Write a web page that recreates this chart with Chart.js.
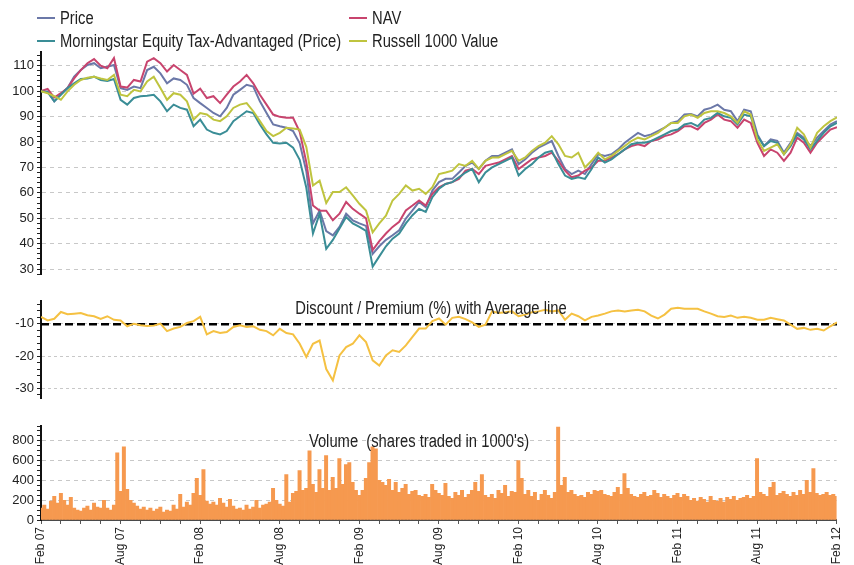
<!DOCTYPE html>
<html>
<head>
<meta charset="utf-8">
<title>Fund performance</title>
<script src="https://cdn.jsdelivr.net/npm/chart.js@4.4.1/dist/chart.umd.min.js"></script>
<style>
  body { margin: 0; background: #fff; width: 854px; height: 565px; overflow: hidden; position: relative;
         font-family: "Liberation Sans", Arial, sans-serif; color: #222; }
  canvas { position: absolute; left: 0; }
  .legend { position: absolute; font-size: 18px; line-height: 18px; white-space: nowrap; }
  .legend i { display: inline-block; width: 18px; height: 2px; vertical-align: middle; margin-right: 5px; position: relative; top: -1px; }
  .legend span { display: inline-block; transform: scaleX(0.82); transform-origin: left center; }
  .title { position: absolute; font-size: 18px; line-height: 18px; white-space: pre; transform: translateX(-50%) scaleX(0.82); }
</style>
</head>
<body>
<canvas id="top" width="854" height="285" style="top:0"></canvas>
<canvas id="mid" width="854" height="119" style="top:290px"></canvas>
<canvas id="vol" width="854" height="150" style="top:415px"></canvas>

<div class="legend" style="left:37px;top:9px"><i style="background:#6b78a8"></i><span>Price</span></div>
<div class="legend" style="left:349px;top:9px"><i style="background:#c8446e"></i><span>NAV</span></div>
<div class="legend" style="left:37px;top:32px"><i style="background:#3a8d96"></i><span>Morningstar Equity Tax-Advantaged (Price)</span></div>
<div class="legend" style="left:349px;top:32px"><i style="background:#bfc43f"></i><span>Russell 1000 Value</span></div>

<div class="title" style="left:431px;top:299px">Discount / Premium (%) with Average line</div>
<div class="title" style="left:419px;top:432px">Volume  (shares traded in 1000's)</div>

<script>
// half-monthly points, Feb 07 .. Feb 12
const price = [
  100, 99.9, 96, 98.8, 101.2, 105.7, 108.3, 110.3, 111, 109, 109.6, 110.3, 101.2, 100.5, 101.8, 101.2,
  108.3, 109.6, 107, 103.1, 105, 104.4, 102.5, 97.3, 95.3, 93.4, 91.4, 90.1, 93.4, 98.6, 100.5, 102.5,
  101.8, 96, 91.4, 86.9, 86.2, 85.6, 84.3, 79.5, 68.5,
  48, 53, 45, 43.3, 46.6, 51.8, 49.2, 48, 47, 36, 39, 41.5, 43.3, 45.3, 49.9, 53.1, 56.4, 54.4, 60.9,
  64.2, 65.5, 65.5, 68, 70.6, 71.9, 69.4, 72.6, 74.5, 74.5, 75.8, 77.1, 71.3, 73.2, 75.8, 77.8, 79.1,
  80.4, 74.5, 69.4,
  67.4, 68.7, 67.4, 71.3, 75.2, 74.5, 75.2, 77.1, 79.7, 81.7, 83.6, 82.3, 83, 84.3, 85.6, 87.5, 88.2,
  90.8, 91, 90.1, 92.7, 93.4, 94.7, 92.7, 92.1, 88.2, 92.7, 92.1, 83, 78.4, 81, 80.4, 75.8, 79.7, 83.6,
  81.7, 78.4, 81.7, 84.3, 86.9, 88.2
];
const nav = [
  100, 100.9, 97.5, 99.2, 101.2, 105, 108.3, 111, 112.6, 110, 109, 113, 101.8, 101.4, 104.4, 103.8,
  111.6, 113, 111, 107.7, 110.3, 108.3, 106.4, 99, 101, 97.3, 98, 95.3, 98.6, 101.8, 103.8, 106.4,
  103.1, 98.6, 94.7, 90.8, 89.9, 89.5, 89.5, 84, 72,
  55, 53, 53, 49.2, 51.8, 56.4, 53.7, 51.8, 50, 37.5, 41, 44, 46.6, 48.6, 53.1, 55, 57, 55, 59.6, 62.2,
  63.5, 64.2, 65.5, 68.7, 69.4, 67.4, 70.6, 71.3, 71.9, 73.2, 74.5, 69.4, 71.3, 73.2, 73.9, 74.5, 75.8,
  72.6, 68.7,
  66.1, 66.8, 68.7, 70, 72.6, 72.6, 73.9, 75.2, 77.1, 78.4, 79.1, 78.4, 80.4, 81, 82.3, 83, 84.3, 86.2,
  86.2, 84.9, 87.5, 88.8, 90.8, 88.8, 88.2, 85.6, 88.8, 87.5, 79.7, 74.5, 77.1, 75.8, 72.6, 75.8, 81.7,
  79.7, 75.8, 79.7, 82.3, 84.9, 85.8
];
const morningstar = [
  100, 99.6, 96, 98.6, 101.2, 103.1, 104.8, 105, 105.7, 104.4, 104, 104.8, 96.6, 94.7, 97.3, 98, 98.2,
  98.6, 96, 92.1, 94.7, 93.4, 92.7, 86.2, 88.8, 84.9, 83.6, 83, 84.3, 88.2, 90.1, 92.1, 91.4, 86.9, 83,
  79.7, 79.4, 79.7, 77.8, 73, 62,
  44, 51.8, 38, 41.5, 46, 50.5, 48, 46.6, 45, 31, 35, 39, 42, 44, 48, 51.2, 53.7, 52.5, 58.3, 61.6, 63.5,
  64.2, 66.1, 68, 69.4, 64.2, 68, 70, 71.3, 72.6, 73.9, 66.8, 69.4, 71.3, 73.9, 75.8, 76.5, 71.3, 66.8,
  65.5, 66.1, 65.5, 69.4, 73.9, 71.9, 73.2, 75.2, 77.1, 79.1, 79.7, 79.7, 80.4, 81.7, 83, 84.3, 84.9,
  86.9, 87.5, 86.2, 88.8, 89.5, 91.4, 90.1, 89.5, 86.9, 90.8, 90.1, 82.3, 78.4, 80.4, 79.7, 75.2, 78.4,
  83, 81, 77.1, 80.4, 83.6, 86.2, 87.5
];
const russell = [
  100, 99.2, 98, 96.6, 99.9, 102.5, 104.4, 105.3, 105.7, 105, 104.4, 106.4, 98.6, 98, 100.5, 99.9,
  103.8, 105.7, 101.2, 96.6, 99.2, 98.6, 96, 88.8, 91.4, 90.8, 88.8, 88.2, 90.1, 93.4, 94.7, 95.3,
  92.1, 88.2, 84.3, 82.3, 83.6, 85.6, 85.3, 84.9, 78,
  62.9, 64.8, 56, 60.3, 60.3, 62.2, 59, 55.7, 53, 44.5, 48, 51, 57, 59.6, 62.9, 60.9, 61.6, 59.6, 62.2,
  67.4, 68, 68.7, 71.3, 70.6, 72.6, 69.4, 72.6, 73.9, 73.9, 75.2, 76.5, 72.6, 73.9, 76.5, 78.4, 79.7,
  82.3, 79.1, 74.5,
  73.9, 75.8, 70, 72.6, 75.8, 73.2, 74.5, 76.5, 78.4, 80.4, 81.7, 81, 82.3, 83.6, 85.6, 87.5, 87.5,
  90.1, 90.8, 89.5, 91.4, 92.1, 92.1, 91.4, 90.1, 87.5, 92.1, 90.8, 81, 76.5, 77.8, 79.1, 75.2, 79.1,
  85.6, 83, 77.8, 83.6, 86.2, 88.2, 89.7
];
const discount = [
  -7.9, -9, -8.5, -6.4, -7.1, -6.9, -6.7, -7.4, -7.7, -8.5, -7.7, -8.8, -9, -10.8, -10, -10.5, -10.7,
  -10.6, -10, -12.3, -11.5, -11, -9.8, -9.2, -7.9, -13.3, -12.3, -12.9, -12.6, -11, -10.5, -11, -10.8,
  -11.9, -12.3, -13.6, -11.6, -12.9, -13.3, -16.2, -20.3, -16.2, -15.2, -24, -27.5, -19.8, -17.2,
  -16.2, -13.6, -15.7, -21.3, -22.9, -19.8, -18.2, -18.7, -16.7, -14.1, -11.5, -11.5, -9.2, -8.4,
  -10.3, -8.2, -7.9, -8.6, -9.6, -11, -10.3, -6.2, -6.7, -6.5, -6.2, -7.7, -7.2, -6.5, -6.2, -5.7,
  -6.2, -5.9, -8.8, -6.9, -7.7, -9, -7.9, -7.5, -6.9, -6.2, -5.9, -6.2, -5.9, -5.7, -6.2, -7.5, -8.4,
  -7.2, -5.4, -5.1, -5.4, -5.4, -5.4, -6.2, -6.9, -7.7, -7.9, -7.5, -8.2, -7.9, -8.2, -8.8, -8.8, -8.2,
  -8.6, -9, -10.3, -11.6, -11.3, -11.9, -11.6, -12.1, -10.8, -9.6
];
const discountAverage = -10.2;

// quarter-monthly volume, thousands of shares
const volume = [
  120, 150, 110, 190, 240, 170, 270, 200, 150, 230, 120, 100, 90, 120, 140, 100,
  170, 130, 120, 200, 120, 100, 150, 680, 290, 740, 310, 200, 170, 140, 110, 130,
  100, 120, 90, 110, 130, 80, 100, 90, 150, 110, 260, 130, 180, 150, 270, 420,
  250, 510, 190, 160, 180, 150, 220, 170, 130, 210, 140, 110, 120, 100, 150, 110,
  130, 200, 120, 150, 160, 180, 320, 200, 160, 140, 460, 180, 270, 290, 500, 300,
  320, 700, 360, 280, 510, 320, 650, 300, 430, 320, 620, 360, 560, 580, 380, 300,
  250, 300, 420, 580, 740, 720, 400, 380, 350, 410, 300, 380, 280, 320, 360, 260,
  290, 300, 250, 240, 260, 230, 360, 300, 270, 250, 370, 240, 220, 280, 250, 300,
  230, 260, 300, 380, 290, 460, 250, 230, 260, 220, 300, 270, 350, 240, 290, 280,
  600, 420, 260, 300, 240, 280, 200, 260, 300, 250, 220, 280, 940, 350, 430, 280,
  300, 260, 240, 250, 230, 280, 260, 300, 290, 300, 260, 250, 240, 280, 330, 260,
  470, 320, 260, 240, 230, 260, 280, 240, 250, 300, 270, 230, 260, 240, 220, 250,
  270, 230, 260, 240, 200, 220, 190, 230, 210, 180, 240, 200, 190, 220, 180, 230,
  210, 240, 200, 220, 230, 250, 220, 240, 620, 280, 260, 240, 330, 380, 250, 270,
  290, 260, 240, 280, 250, 300, 260, 400, 280, 520, 270, 250, 260, 280, 250, 260,
  240
];

const xLabels = ["Feb 07", "Aug 07", "Feb 08", "Aug 08", "Feb 09", "Aug 09",
                 "Feb 10", "Aug 10", "Feb 11", "Aug 11", "Feb 12"];

Chart.defaults.font.family = '"Liberation Sans", Arial, sans-serif';
Chart.defaults.font.size = 13;
Chart.defaults.color = "#222";

const $ = (id) => document.getElementById(id);
const toPoints = (arr, perMonth) => arr.map((v, i) => ({ x: i / perMonth, y: v }));

function xAxis(show) {
  return {
    type: "linear", min: 0, max: 60, offset: false, display: show,
    afterBuildTicks: (s) => {
      const t = [];
      for (let m = 0; m <= 60; m += 1.5) t.push({ value: m });
      s.ticks = t;
    },
    afterFit: (s) => { if (show) s.height = 45; },
    ticks: {
      autoSkip: false, minRotation: 90, maxRotation: 90, padding: 3, font: { size: 12 },
      callback: (v) => (v % 6 === 0 ? xLabels[v / 6] : ""),
    },
    grid: { drawOnChartArea: false, offset: false, tickColor: "#555", tickLength: 4 },
    border: { display: true, color: "#4a4a4a", width: 2 },
  };
}

function yAxis(min, max, minor, major, dash) {
  return {
    min, max,
    afterFit: (s) => { s.width = 41; },
    afterBuildTicks: (s) => {
      const t = [];
      for (let v = Math.ceil(min / minor) * minor; v <= max; v += minor) t.push({ value: v });
      s.ticks = t;
    },
    ticks: { autoSkip: false, padding: 3, callback: (v) => (v % major === 0 ? v : "") },
    grid: {
      color: (c) => (c.tick && c.tick.value % major === 0 ? "#c8c8c8" : "rgba(0,0,0,0)"),
      tickColor: "#222", tickLength: 4, lineWidth: 1,
    },
    border: { display: true, color: "#111", width: 2, dash },
  };
}

const base = {
  animation: false, responsive: false, events: [],
  plugins: { legend: { display: false }, tooltip: { enabled: false } },
};

const line = (data, color, width) => ({
  data: toPoints(data, 2), borderColor: color, borderWidth: width || 2,
  pointRadius: 0, tension: 0, fill: false,
});

new Chart($("top"), {
  type: "line",
  data: {
    datasets: [
      line(russell, "#bfc43f"),
      line(morningstar, "#3a8d96"),
      line(nav, "#c8446e"),
      line(price, "#6b78a8"),
    ],
  },
  options: {
    ...base,
    layout: { padding: { top: 52, bottom: 10, right: 17, left: 0 } },
    scales: { x: xAxis(false), y: yAxis(28, 115.4, 2, 10, [4, 4]) },
  },
});

new Chart($("mid"), {
  type: "line",
  data: {
    datasets: [
      line(discount, "#f5c142"),
      {
        data: [{ x: 0, y: discountAverage }, { x: 60, y: discountAverage }],
        borderColor: "#000", borderWidth: 2.5, borderDash: [8, 4], pointRadius: 0,
      },
    ],
  },
  options: {
    ...base,
    layout: { padding: { top: 11, bottom: 10, right: 17, left: 0 } },
    scales: { x: xAxis(false), y: yAxis(-33, -3, 2, 10, [3, 3]) },
  },
});

new Chart($("vol"), {
  type: "bar",
  data: {
    datasets: [{
      data: toPoints(volume, 4), backgroundColor: "#f6994f", borderWidth: 0,
      barPercentage: 1, categoryPercentage: 1,
    }],
  },
  options: {
    ...base,
    layout: { padding: { top: 11, bottom: 0, right: 17, left: 0 } },
    scales: { x: xAxis(true), y: yAxis(0, 950, 50, 200, [4, 4]) },
  },
});
</script>
</body>
</html>
